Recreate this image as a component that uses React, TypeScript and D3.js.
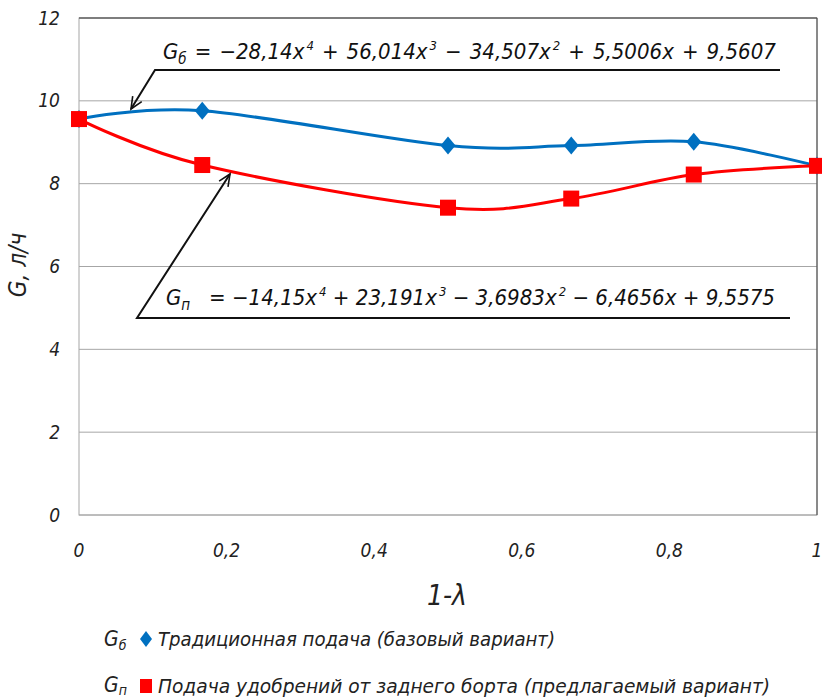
import React from "react";
import * as d3 from "d3";

// 1-λ values
const shares = [0, 0.167, 0.5, 0.667, 0.833, 1];
// G, л/ч — traditional feed (base)
const gBase = [9.56, 9.76, 8.92, 8.92, 9.01, 8.43];
// G, л/ч — feed from the rear board (proposed)
const gProp = [9.56, 8.45, 7.42, 7.64, 8.22, 8.43];

const yTicks = [0, 2, 4, 6, 8, 10, 12];
const xTicks = [0, 0.2, 0.4, 0.6, 0.8, 1];

const legendBase = "Традиционная подача (базовый вариант)";
const legendProp = "Подача удобрений от заднего борта (предлагаемый вариант)";

const FONT = "'DejaVu Sans Condensed', 'DejaVu Sans', sans-serif";
const BLUE = "#0070C0";
const RED = "#FF0000";

function arrowHead(x0: number, y0: number, x1: number, y1: number) {
  // open arrow at (x1, y1) pointing from (x0, y0)
  const a = Math.atan2(y1 - y0, x1 - x0);
  const len = 13;
  const spread = 0.42;
  const p1 = [x1 - len * Math.cos(a - spread), y1 - len * Math.sin(a - spread)];
  const p2 = [x1 - len * Math.cos(a + spread), y1 - len * Math.sin(a + spread)];
  return `M${p1[0]},${p1[1]}L${x1},${y1}L${p2[0]},${p2[1]}`;
}

const diamond = (cx: number, cy: number, w: number, h: number) =>
  `M${cx},${cy - h}L${cx + w},${cy}L${cx},${cy + h}L${cx - w},${cy}Z`;

export default function App() {
  const x = d3.scaleLinear().domain([0, 1]).range([79, 817]);
  const y = d3.scaleLinear().domain([0, 12]).range([515, 18]);

  // Excel-like smoothing (uniform Catmull-Rom in screen space)
  const line = d3
    .line<number>()
    .x((_, i) => x(shares[i]))
    .y((d) => y(d))
    .curve(d3.curveCatmullRom.alpha(0));

  const fmt = (v: number) => String(v).replace(".", ",");
  const sup = { fontSize: 13 } as React.CSSProperties;

  return (
    <svg
      width={822}
      height={700}
      style={{ position: "absolute", left: 0, top: 0, background: "#fff" }}
      fontFamily={FONT}
      fontStyle="italic"
    >
      {/* grid */}
      {yTicks.map((t) => (
        <line key={"g" + t} x1={x(0)} x2={x(1)} y1={y(t)} y2={y(t)} stroke="#a6a6a6" strokeWidth={1} />
      ))}
      <rect x={x(0)} y={y(12)} width={x(1) - x(0)} height={y(0) - y(12)} fill="none" stroke="#a6a6a6" />
      <line x1={x(0)} x2={x(1)} y1={y(12)} y2={y(12)} stroke="#404040" />
      <line x1={x(1)} x2={x(1)} y1={y(12)} y2={y(0)} stroke="#404040" />

      {/* y tick labels */}
      {yTicks.map((t) => (
        <text key={"y" + t} x={60} y={y(t)} dy="0.35em" textAnchor="end" fontSize={19} fill="#222">
          {t}
        </text>
      ))}
      {/* x tick labels */}
      {xTicks.map((t) => (
        <text key={"x" + t} x={x(t)} y={550} dy="0.35em" textAnchor="middle" fontSize={19} fill="#222">
          {fmt(t)}
        </text>
      ))}

      {/* axis titles */}
      <text x={447} y={595} dy="0.35em" textAnchor="middle" fontSize={28} fill="#222">
        1-λ
      </text>
      <text transform="translate(26,265) rotate(-90)" textAnchor="middle" fontSize={24} fill="#222">
        G, л/ч
      </text>

      {/* series */}
      <path d={line(gBase) ?? ""} fill="none" stroke={BLUE} strokeWidth={3} />
      <path d={line(gProp) ?? ""} fill="none" stroke={RED} strokeWidth={3} />
      {gBase.map((v, i) => (
        <path key={"b" + i} d={diamond(x(shares[i]), y(v), 7.5, 9)} fill={BLUE} />
      ))}
      {gProp.map((v, i) => (
        <rect key={"r" + i} x={x(shares[i]) - 8} y={y(v) - 8} width={16} height={16} fill={RED} />
      ))}

      {/* equation for base */}
      <path d="M780,70L155,70L131,109" fill="none" stroke="#111" strokeWidth={2} />
      <path d={arrowHead(155, 70, 131, 109)} fill="none" stroke="#111" strokeWidth={1.6} />
      <text x={163} y={59} fontSize={22} fill="#111" wordSpacing={1.8} style={{ whiteSpace: "pre" }}>
        G<tspan fontSize={15} dy={5}>б</tspan>
        <tspan dy={-5}>{" = −28,14x"}</tspan>
        <tspan style={sup} dx={2} dy={-9}>4</tspan>
        <tspan dy={9}>{" + 56,014x"}</tspan>
        <tspan style={sup} dx={2} dy={-9}>3</tspan>
        <tspan dy={9}>{" − 34,507x"}</tspan>
        <tspan style={sup} dx={2} dy={-9}>2</tspan>
        <tspan dy={9}>{" + 5,5006x + 9,5607"}</tspan>
      </text>

      {/* equation for proposed */}
      <path d="M790,318L137,318L230,174" fill="none" stroke="#111" strokeWidth={2} />
      <path d={arrowHead(137, 318, 230, 174)} fill="none" stroke="#111" strokeWidth={1.6} />
      <text x={166} y={305} fontSize={22} fill="#111" textLength={609} lengthAdjust="spacingAndGlyphs" style={{ whiteSpace: "pre" }}>
        G<tspan fontSize={15} dy={5}>п</tspan>
        <tspan dy={-5}>{"   = −14,15x"}</tspan>
        <tspan style={sup} dx={2} dy={-9}>4</tspan>
        <tspan dy={9}>{" + 23,191x"}</tspan>
        <tspan style={sup} dx={2} dy={-9}>3</tspan>
        <tspan dy={9}>{" − 3,6983x"}</tspan>
        <tspan style={sup} dx={2} dy={-9}>2</tspan>
        <tspan dy={9}>{" − 6,4656x + 9,5575"}</tspan>
      </text>

      {/* legend */}
      <text x={104} y={646} fontSize={21} fill="#222">
        G<tspan fontSize={14} dy={4}>б</tspan>
      </text>
      <path d={diamond(146, 639, 6, 8)} fill={BLUE} />
      <text x={158} y={646} fontSize={20} fill="#222" textLength={397} lengthAdjust="spacingAndGlyphs">
        {legendBase}
      </text>
      <text x={104} y={692} fontSize={21} fill="#222">
        G<tspan fontSize={14} dy={3}>п</tspan>
      </text>
      <rect x={140} y={679} width={12} height={14} fill={RED} />
      <text x={158} y={693} fontSize={20} fill="#222" textLength={612} lengthAdjust="spacingAndGlyphs">
        {legendProp}
      </text>
    </svg>
  );
}
